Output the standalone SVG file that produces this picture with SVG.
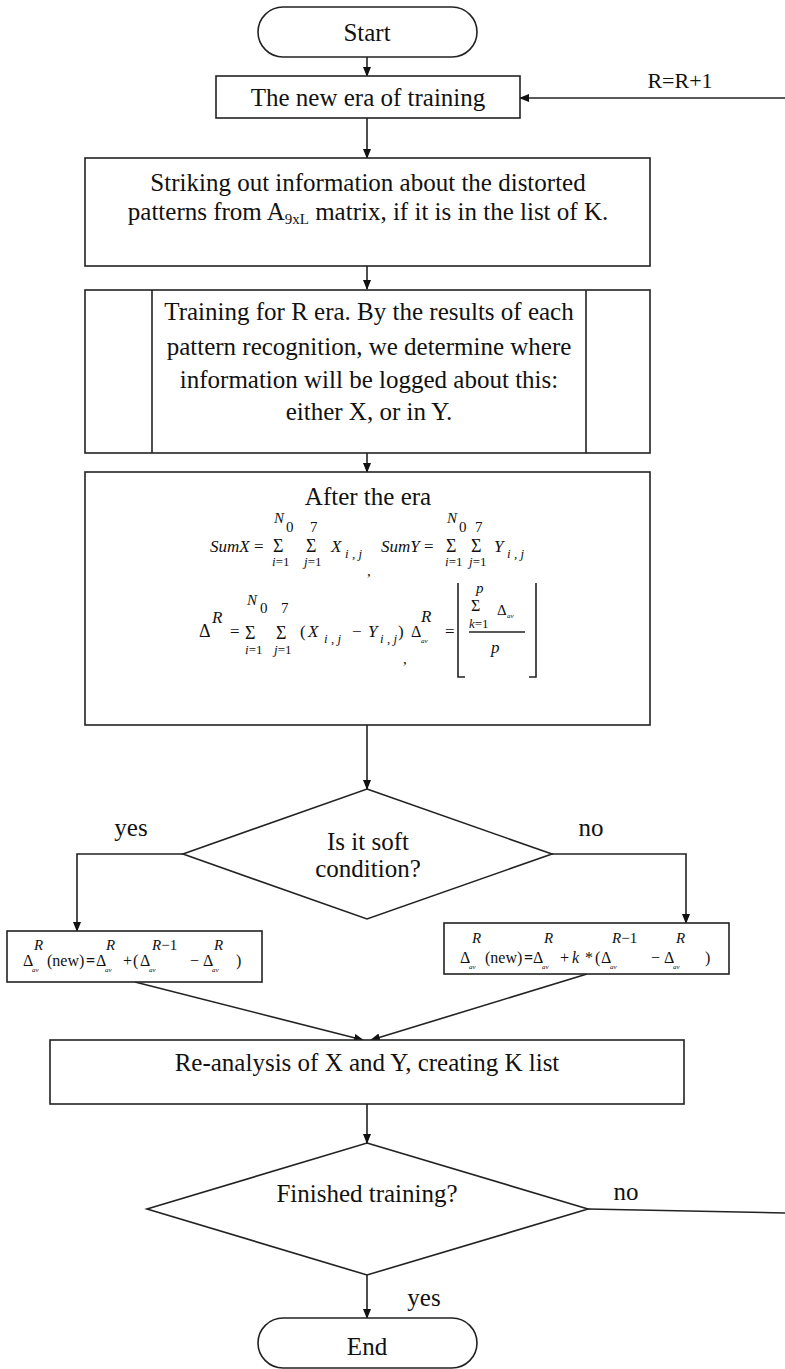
<svg xmlns="http://www.w3.org/2000/svg" width="785" height="1369" viewBox="0 0 785 1369">
<defs>
<marker id="ah" markerWidth="10" markerHeight="8" refX="9" refY="4" orient="auto" markerUnits="userSpaceOnUse">
<path d="M0,0 L10,4 L0,8 z" fill="#111"/>
</marker>
<style>
.shape{fill:#fff;stroke:#222;stroke-width:1.6}
.line{fill:none;stroke:#222;stroke-width:1.6}
.t{font-family:"Liberation Serif","Times New Roman",serif;font-size:25px;fill:#111;text-anchor:middle}
.m{font-family:"Liberation Serif","Times New Roman",serif;font-style:italic;font-size:17px;fill:#111}
.mr{font-family:"Liberation Serif","Times New Roman",serif;font-size:17px;fill:#111}
.av{font-family:"Liberation Serif","Times New Roman",serif;font-style:italic;font-size:7px;fill:#111}
</style>
</defs>
<rect width="785" height="1369" fill="#fff"/>

<g id="connectors">
<line class="line" x1="367" y1="57" x2="367" y2="76" marker-end="url(#ah)"/>
<line class="line" x1="785" y1="98" x2="520" y2="98" marker-end="url(#ah)"/>
<line class="line" x1="367" y1="118" x2="367" y2="158" marker-end="url(#ah)"/>
<line class="line" x1="367" y1="266" x2="367" y2="289" marker-end="url(#ah)"/>
<line class="line" x1="367" y1="453" x2="367" y2="472" marker-end="url(#ah)"/>
<line class="line" x1="367" y1="725" x2="367" y2="789" marker-end="url(#ah)"/>
<polyline class="line" points="183,854 77,854 77,931" marker-end="url(#ah)"/>
<polyline class="line" points="552,854 686,854 686,923" marker-end="url(#ah)"/>
<line class="line" x1="135" y1="982" x2="363" y2="1040" marker-end="url(#ah)"/>
<line class="line" x1="587" y1="974" x2="371" y2="1040" marker-end="url(#ah)"/>
<line class="line" x1="367" y1="1104" x2="367" y2="1143" marker-end="url(#ah)"/>
<line class="line" x1="588" y1="1209" x2="785" y2="1213"/>
<line class="line" x1="367" y1="1275" x2="367" y2="1318" marker-end="url(#ah)"/>
<text class="t" x="680" y="88" style="font-size:22px">R=R+1</text>
<text class="t" x="131" y="836">yes</text>
<text class="t" x="591" y="836">no</text>
<text class="t" x="626" y="1200">no</text>
<text class="t" x="424" y="1306">yes</text>
</g>

<g id="start">
<rect class="shape" x="258" y="7" width="219" height="50" rx="25"/>
<text class="t" x="367" y="41">Start</text>
</g>

<g id="new-era">
<rect class="shape" x="216" y="76" width="304" height="42"/>
<text class="t" x="368" y="106">The new era of training</text>
</g>

<g id="striking">
<rect class="shape" x="85" y="158" width="565" height="108"/>
<text class="t" x="368" y="191">Striking out information about the distorted</text>
<text class="t" x="368" y="220">patterns from A<tspan style="font-size:15px" dy="4">9xL</tspan><tspan dy="-4"> matrix, if it is in the list of K.</tspan></text>
</g>

<g id="training">
<rect class="shape" x="85" y="290" width="565" height="163"/>
<line class="line" x1="152" y1="290" x2="152" y2="453"/>
<line class="line" x1="586" y1="290" x2="586" y2="453"/>
<text class="t" x="369" y="320">Training for R era. By the results of each</text>
<text class="t" x="369" y="355">pattern recognition, we determine where</text>
<text class="t" x="369" y="388">information will be logged about this:</text>
<text class="t" x="369" y="420">either X, or in Y.</text>
</g>

<g id="after-era">
<rect class="shape" x="85" y="472" width="565" height="253"/>
<text class="t" x="368" y="505">After the era</text>
<!-- SumX -->
<text class="m" x="210" y="552">SumX <tspan font-style="normal">=</tspan></text>
<text class="mr" x="273" y="552" style="font-size:18px">Σ</text>
<text class="m" x="274" y="523" style="font-size:15px">N</text>
<text class="mr" x="286" y="532" style="font-size:15px">0</text>
<text class="m" x="272" y="566" style="font-size:13px">i<tspan font-style="normal">=1</tspan></text>
<text class="mr" x="306" y="552" style="font-size:18px">Σ</text>
<text class="mr" x="310" y="532" style="font-size:15px">7</text>
<text class="m" x="304" y="566" style="font-size:13px">j<tspan font-style="normal">=1</tspan></text>
<text class="m" x="331" y="552">X</text>
<text class="m" x="345" y="558" style="font-size:13px">i <tspan font-style="normal">,</tspan> j</text>
<text class="mr" x="367" y="576" style="font-size:15px">,</text>
<!-- SumY -->
<text class="m" x="381" y="552">SumY <tspan font-style="normal">=</tspan></text>
<text class="mr" x="446" y="552" style="font-size:18px">Σ</text>
<text class="m" x="447" y="523" style="font-size:15px">N</text>
<text class="mr" x="459" y="532" style="font-size:15px">0</text>
<text class="m" x="445" y="566" style="font-size:13px">i<tspan font-style="normal">=1</tspan></text>
<text class="mr" x="471" y="552" style="font-size:18px">Σ</text>
<text class="mr" x="475" y="532" style="font-size:15px">7</text>
<text class="m" x="469" y="566" style="font-size:13px">j<tspan font-style="normal">=1</tspan></text>
<text class="m" x="494" y="552">Y</text>
<text class="m" x="507" y="558" style="font-size:13px">i <tspan font-style="normal">,</tspan> j</text>
<!-- Delta R -->
<text class="mr" x="199" y="637" style="font-size:18px">Δ</text>
<text class="m" x="212" y="623">R</text>
<text class="mr" x="230" y="637">=</text>
<text class="mr" x="245" y="639" style="font-size:18px">Σ</text>
<text class="m" x="247" y="605" style="font-size:15px">N</text>
<text class="mr" x="260" y="613" style="font-size:15px">0</text>
<text class="m" x="245" y="654" style="font-size:13px">i<tspan font-style="normal">=1</tspan></text>
<text class="mr" x="276" y="639" style="font-size:18px">Σ</text>
<text class="mr" x="281" y="613" style="font-size:15px">7</text>
<text class="m" x="274" y="654" style="font-size:13px">j<tspan font-style="normal">=1</tspan></text>
<text class="mr" x="300" y="637">(</text>
<text class="m" x="308" y="637">X</text>
<text class="m" x="324" y="643" style="font-size:13px">i <tspan font-style="normal">,</tspan> j</text>
<text class="mr" x="352" y="637">−</text>
<text class="m" x="368" y="637">Y</text>
<text class="m" x="380" y="643" style="font-size:13px">i <tspan font-style="normal">,</tspan> j</text>
<text class="mr" x="398" y="637">)</text>
<text class="mr" x="403" y="664" style="font-size:15px">,</text>
<text class="mr" x="411" y="637" style="font-size:16px">Δ</text>
<text class="av" x="421" y="643">av</text>
<text class="m" x="421" y="622">R</text>
<text class="mr" x="445" y="637">=</text>
<path class="line" d="M458,583 V677 H465 M536,583 V677 H529"/>
<text class="m" x="476" y="593" style="font-size:15px">p</text>
<text class="mr" x="471" y="611" style="font-size:16px">Σ</text>
<text class="m" x="469" y="628" style="font-size:13px">k<tspan font-style="normal">=1</tspan></text>
<text class="mr" x="497" y="615" style="font-size:15px">Δ</text>
<text class="av" x="507" y="618">av</text>
<line class="line" x1="469" y1="632" x2="525" y2="632"/>
<text class="m" x="491" y="653">p</text>
</g>

<g id="soft-decision">
<polygon class="shape" points="367,789 552,854 367,919 183,854"/>
<text class="t" x="368" y="850">Is it soft</text>
<text class="t" x="368" y="877">condition?</text>
</g>

<g id="yes-update">
<rect class="shape" x="7" y="931" width="255" height="51"/>
<text class="mr" x="23" y="966" style="font-size:16px">Δ</text>
<text class="av" x="32" y="972">av</text>
<text class="m" x="34" y="950" style="font-size:15px">R</text>
<text class="mr" x="47" y="966" style="font-size:16px">(new)</text>
<text class="mr" x="86" y="966" style="font-size:16px;font-weight:bold">=</text>
<text class="mr" x="96" y="966" style="font-size:16px">Δ</text>
<text class="av" x="105" y="972">av</text>
<text class="m" x="106" y="950" style="font-size:15px">R</text>
<text class="mr" x="123" y="966" style="font-size:16px">+</text>
<text class="mr" x="133" y="966" style="font-size:16px">(</text>
<text class="mr" x="140" y="966" style="font-size:16px">Δ</text>
<text class="av" x="149" y="972">av</text>
<text class="m" x="152" y="950" style="font-size:15px">R<tspan font-style="normal">−1</tspan></text>
<text class="mr" x="190" y="966" style="font-size:16px">−</text>
<text class="mr" x="203" y="966" style="font-size:16px">Δ</text>
<text class="av" x="212" y="972">av</text>
<text class="m" x="214" y="950" style="font-size:15px">R</text>
<text class="mr" x="236" y="966" style="font-size:16px">)</text>
</g>

<g id="no-update">
<rect class="shape" x="444" y="923" width="285" height="51"/>
<text class="mr" x="460" y="963" style="font-size:16px">Δ</text>
<text class="av" x="469" y="969">av</text>
<text class="m" x="472" y="943" style="font-size:15px">R</text>
<text class="mr" x="485" y="963" style="font-size:16px">(new)</text>
<text class="mr" x="524" y="963" style="font-size:16px;font-weight:bold">=</text>
<text class="mr" x="533" y="963" style="font-size:16px">Δ</text>
<text class="av" x="542" y="969">av</text>
<text class="m" x="544" y="943" style="font-size:15px">R</text>
<text class="mr" x="560" y="963" style="font-size:16px">+</text>
<text class="m" x="572" y="963" style="font-size:16px">k</text>
<text class="mr" x="585" y="963" style="font-size:16px">*</text>
<text class="mr" x="595" y="963" style="font-size:16px">(</text>
<text class="mr" x="601" y="963" style="font-size:16px">Δ</text>
<text class="av" x="610" y="969">av</text>
<text class="m" x="612" y="943" style="font-size:15px">R<tspan font-style="normal">−1</tspan></text>
<text class="mr" x="651" y="963" style="font-size:16px">−</text>
<text class="mr" x="664" y="963" style="font-size:16px">Δ</text>
<text class="av" x="673" y="969">av</text>
<text class="m" x="676" y="943" style="font-size:15px">R</text>
<text class="mr" x="705" y="963" style="font-size:16px">)</text>
</g>

<g id="reanalysis">
<rect class="shape" x="50" y="1040" width="634" height="64"/>
<text class="t" x="367" y="1071">Re-analysis of X and Y, creating K list</text>
</g>

<g id="finished-decision">
<polygon class="shape" points="367,1143 588,1209 367,1275 147,1209"/>
<text class="t" x="367" y="1202">Finished training?</text>
</g>

<g id="end">
<rect class="shape" x="258" y="1318" width="219" height="50" rx="25"/>
<text class="t" x="367" y="1355">End</text>
</g>
</svg>
